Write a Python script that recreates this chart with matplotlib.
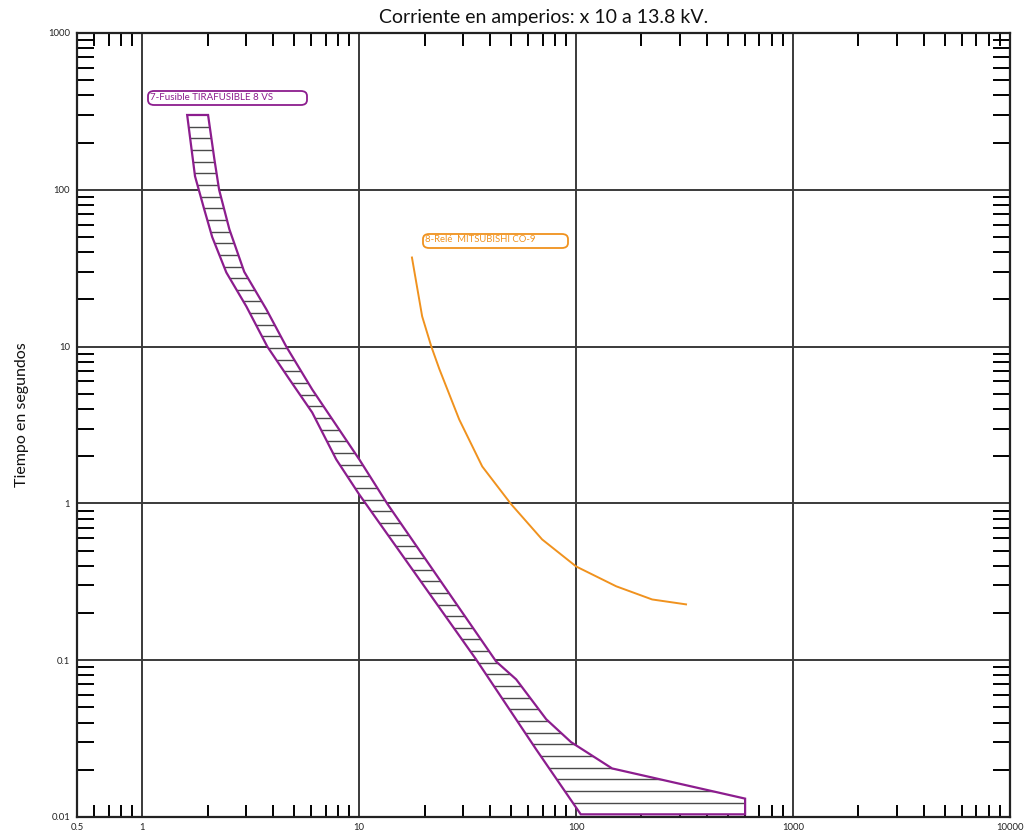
import numpy as np
import matplotlib
matplotlib.use("Agg")
import matplotlib.pyplot as plt
from matplotlib.patches import Polygon, FancyBboxPatch
from matplotlib.ticker import LogLocator, FixedLocator, FixedFormatter, NullFormatter

plt.rcParams["font.family"] = ["Lato", "DejaVu Sans"]

# ---- data ----
# fuse 7: minimum melting curve (left edge of band), top -> bottom
fuse_melt_x = [1.61, 1.75, 1.93, 2.10, 2.44, 3.02, 3.77, 4.76, 6.07, 7.83, 10.0, 34.6, 65.4, 105]
fuse_melt_y = [300, 122, 75, 50, 29.7, 18, 10, 6.2, 3.8, 1.91, 1.14, 0.101, 0.027, 0.0104]
# fuse 7: total clearing curve (right edge of band), top -> bottom
fuse_clear_x = [2.01, 2.15, 2.26, 2.52, 2.95, 3.73, 4.61, 6.07, 10.0, 13.5, 42.8, 52.9, 72.8, 94.8, 146.5, 601, 601]
fuse_clear_y = [300, 156, 100, 56, 30, 17.3, 10, 5.33, 1.91, 0.99, 0.098, 0.0755, 0.042, 0.030, 0.0204, 0.0131, 0.0104]

# relay 8: Mitsubishi CO-9
relay_x = [17.5, 19.5, 21.5, 23.4, 28.9, 36.9, 50.1, 69.7, 100, 153, 224, 321]
relay_y = [37, 15.6, 10, 7.2, 3.43, 1.72, 0.99, 0.589, 0.396, 0.296, 0.244, 0.227]

x_ticks = [0.5, 1, 10, 100, 1000, 10000]
x_labels = ["0.5", "1", "10", "100", "1000", "10000"]
y_ticks = [0.01, 0.1, 1, 10, 100, 1000]
y_labels = ["0.01", "0.1", "1", "10", "100", "1000"]

title = "Corriente en amperios: x 10 a 13.8 kV."
ylabel = "Tiempo en segundos"
fuse_label = "7-Fusible TIRAFUSIBLE 8 VS"
relay_label = "8-Relé  MITSUBISHI CO-9"

PURPLE = "#8C1D8E"
ORANGE = "#F0921E"
GRID = "#3a3a3a"

fig = plt.figure(figsize=(10.24, 8.34), dpi=100)
ax = fig.add_axes([77 / 1024, 1 - 817 / 834, (1010 - 77) / 1024, (817 - 33) / 834])
ax.set_xscale("log")
ax.set_yscale("log")
ax.set_xlim(0.5, 10000)
ax.set_ylim(0.01, 1000)

# major grid
for v in [1, 10, 100, 1000]:
    ax.axvline(v, color=GRID, lw=1.4, zorder=1)
for v in [0.1, 1, 10, 100]:
    ax.axhline(v, color=GRID, lw=1.4, zorder=1)

# fuse band with horizontal hatching
band = np.column_stack([
    np.concatenate([fuse_melt_x, fuse_clear_x[::-1]]),
    np.concatenate([fuse_melt_y, fuse_clear_y[::-1]]),
])
ax.add_patch(Polygon(band, closed=True, facecolor="white", edgecolor="none", zorder=4))
clip = Polygon(band, closed=True, facecolor="none", edgecolor="none", transform=ax.transData)
ax.add_patch(clip)
hatch_y = np.logspace(np.log10(0.0104), np.log10(300), 61)[1:-1]
hl = ax.hlines(hatch_y, 0.5, 10000, colors="#4a4a4a", lw=1.0, zorder=4.5)
hl.set_clip_path(clip)
ax.add_patch(Polygon(band, closed=True, facecolor="none", edgecolor=PURPLE, lw=1.6, zorder=5))

# relay curve
ax.plot(relay_x, relay_y, color=ORANGE, lw=1.4, zorder=5)

# label boxes
def label_box(x0, y0, x1, y1, text, color, size):
    bx = FancyBboxPatch((x0 / 1024, 1 - y1 / 834), (x1 - x0) / 1024, (y1 - y0) / 834,
                        boxstyle="round,pad=0,rounding_size=0.006", transform=fig.transFigure,
                        facecolor="white", edgecolor=color, lw=1.3, zorder=6)
    fig.patches.append(bx)
    fig.text((x0 + 2) / 1024, 1 - ((y0 + y1) / 2 - 1) / 834, text, color=color, fontsize=size,
             ha="left", va="center", zorder=7)

label_box(148, 91, 307, 105, fuse_label, PURPLE, 7.0)
label_box(423, 234, 568, 248, relay_label, ORANGE, 6.8)

# ticks
ax.xaxis.set_major_locator(FixedLocator(x_ticks))
ax.xaxis.set_major_formatter(FixedFormatter(x_labels))
ax.yaxis.set_major_locator(FixedLocator(y_ticks))
ax.yaxis.set_major_formatter(FixedFormatter(y_labels))
ax.xaxis.set_minor_locator(LogLocator(base=10, subs=np.arange(2, 10)))
ax.yaxis.set_minor_locator(LogLocator(base=10, subs=np.arange(2, 10)))
ax.xaxis.set_minor_formatter(NullFormatter())
ax.yaxis.set_minor_formatter(NullFormatter())
ax.tick_params(which="major", length=0, labelsize=6.8, colors="#222222", pad=4)
ax.tick_params(axis="y", which="major", pad=5)
ax.tick_params(axis="x", which="minor", direction="in", length=9, width=1.4, top=True, bottom=True)
ax.tick_params(axis="y", which="minor", direction="in", length=12, width=1.4, left=True, right=True)
for s in ax.spines.values():
    s.set_linewidth(1.6)
    s.set_color("#222222")

fig.text(544 / 1024, 1 - 18 / 834, title, ha="center", va="center", fontsize=14, color="#111111")
fig.text(22 / 1024, 1 - 415 / 834, ylabel, ha="center", va="center", rotation=90,
         fontsize=11.5, color="#111111")

fig.savefig("out.png", dpi=100, facecolor="white")
